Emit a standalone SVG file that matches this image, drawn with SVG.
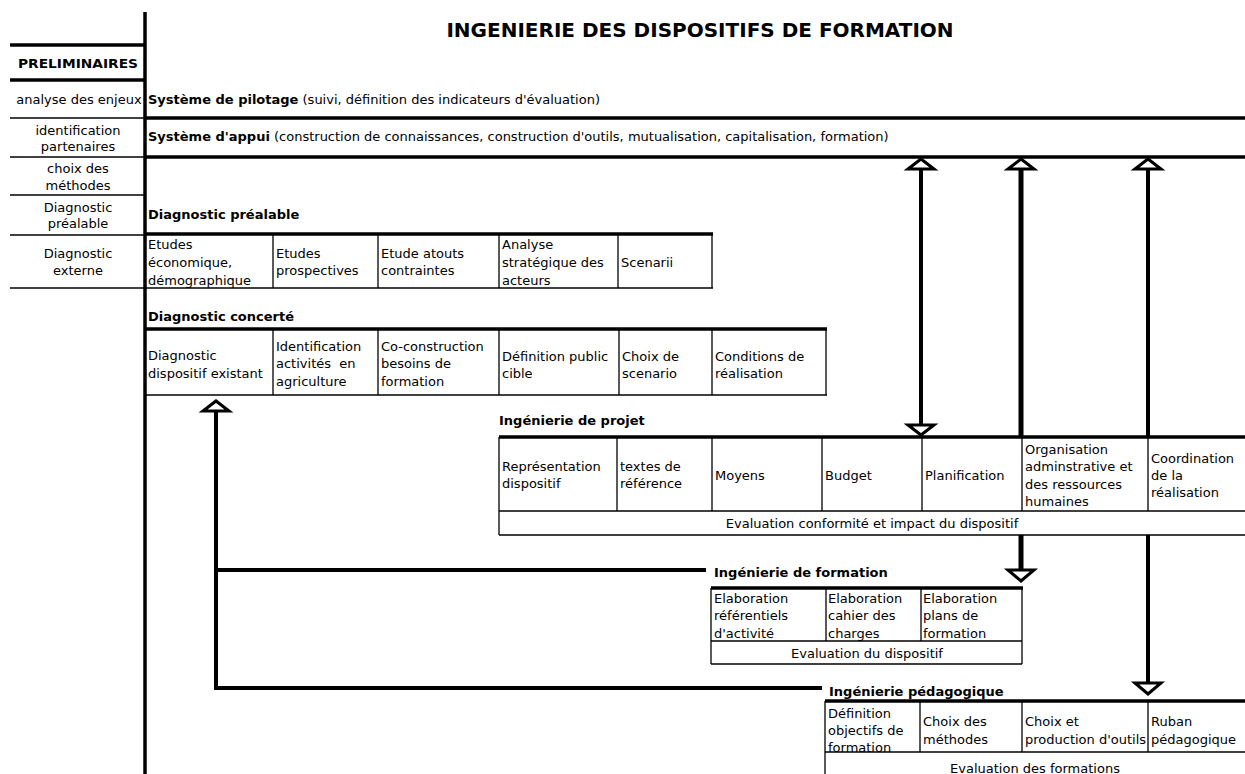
<svg xmlns="http://www.w3.org/2000/svg" width="1245" height="774" viewBox="0 0 1245 774">
<style>
text{font-family:"DejaVu Sans","Liberation Sans",sans-serif;font-size:13px;fill:#000}
.b{font-weight:bold}
.m{text-anchor:middle}
.title{font-size:20px;font-weight:bold;text-anchor:middle}
.k{stroke:#000;stroke-width:3.5;fill:none}
.n{stroke:#000;stroke-width:1.3;fill:none}
.sh{stroke:#000;stroke-width:4;fill:none}
.hd{fill:#fff;stroke:#000;stroke-width:3;stroke-linejoin:miter}
</style>
<rect width="1245" height="774" fill="#fff"/>

<g id="title"><text class="title" x="700" y="37">INGENIERIE DES DISPOSITIFS DE FORMATION</text></g>

<g id="preliminaires">
<line class="k" x1="145" y1="12" x2="145" y2="774"/>
<line class="k" x1="10" y1="45" x2="145" y2="45"/>
<line class="k" x1="10" y1="80" x2="145" y2="80"/>
<line class="n" x1="10" y1="118" x2="145" y2="118"/>
<line class="n" x1="10" y1="157" x2="145" y2="157"/>
<line class="n" x1="10" y1="195" x2="145" y2="195"/>
<line class="n" x1="10" y1="235" x2="145" y2="235"/>
<line class="n" x1="10" y1="288" x2="145" y2="288"/>
<text class="b m" x="78" y="68" textLength="120" lengthAdjust="spacingAndGlyphs">PRELIMINAIRES</text>
<text class="m" x="79" y="104">analyse des enjeux</text>
<text class="m" x="78" y="135">identification</text>
<text class="m" x="78" y="151">partenaires</text>
<text class="m" x="78" y="173">choix des</text>
<text class="m" x="78" y="190">méthodes</text>
<text class="m" x="78" y="212">Diagnostic</text>
<text class="m" x="78" y="228">préalable</text>
<text class="m" x="78" y="258">Diagnostic</text>
<text class="m" x="78" y="275">externe</text>
</g>

<g id="pilotage">
<text x="148" y="104"><tspan class="b">Système de pilotage</tspan> (suivi, définition des indicateurs d'évaluation)</text>
<line class="k" x1="145" y1="118" x2="1245" y2="118"/>
</g>

<g id="appui">
<text x="148" y="141"><tspan class="b">Système d'appui</tspan> (construction de connaissances, construction d'outils, mutualisation, capitalisation, formation)</text>
<line class="k" x1="145" y1="157" x2="1245" y2="157"/>
</g>

<g id="diagnostic-prealable">
<text class="b" x="148" y="219">Diagnostic préalable</text>
<line class="k" x1="145" y1="234" x2="713" y2="234"/>
<line class="n" x1="145" y1="288" x2="713" y2="288"/>
<line class="n" x1="712" y1="234" x2="712" y2="288"/>
<line class="n" x1="273" y1="234" x2="273" y2="288"/>
<line class="n" x1="378" y1="234" x2="378" y2="288"/>
<line class="n" x1="499" y1="234" x2="499" y2="288"/>
<line class="n" x1="618" y1="234" x2="618" y2="288"/>
<text x="148" y="249">Etudes</text>
<text x="148" y="267">économique,</text>
<text x="148" y="285">démographique</text>
<text x="276" y="258">Etudes</text>
<text x="276" y="275">prospectives</text>
<text x="381" y="258">Etude atouts</text>
<text x="381" y="275">contraintes</text>
<text x="502" y="249">Analyse</text>
<text x="502" y="267">stratégique des</text>
<text x="502" y="285">acteurs</text>
<text x="621" y="267">Scenarii</text>
</g>

<g id="diagnostic-concerte">
<text class="b" x="148" y="321">Diagnostic concerté</text>
<line class="k" x1="145" y1="329" x2="827" y2="329"/>
<line class="n" x1="145" y1="395" x2="827" y2="395"/>
<line class="n" x1="826" y1="329" x2="826" y2="395"/>
<line class="n" x1="273" y1="329" x2="273" y2="395"/>
<line class="n" x1="378" y1="329" x2="378" y2="395"/>
<line class="n" x1="499" y1="329" x2="499" y2="395"/>
<line class="n" x1="619" y1="329" x2="619" y2="395"/>
<line class="n" x1="712" y1="329" x2="712" y2="395"/>
<text x="148" y="360">Diagnostic</text>
<text x="148" y="378">dispositif existant</text>
<text x="276" y="351">Identification</text>
<text x="276" y="368" xml:space="preserve">activités  en</text>
<text x="276" y="386">agriculture</text>
<text x="381" y="351">Co-construction</text>
<text x="381" y="368">besoins de</text>
<text x="381" y="386">formation</text>
<text x="502" y="361">Définition public</text>
<text x="502" y="378">cible</text>
<text x="622" y="361">Choix de</text>
<text x="622" y="378">scenario</text>
<text x="715" y="361">Conditions de</text>
<text x="715" y="378">réalisation</text>
</g>

<g id="ingenierie-projet">
<text class="b" x="499" y="425">Ingénierie de projet</text>
<line class="k" x1="499" y1="437" x2="1245" y2="437"/>
<line class="n" x1="499" y1="437" x2="499" y2="535"/>
<line class="n" x1="499" y1="511" x2="1245" y2="511"/>
<line class="n" x1="499" y1="535" x2="1245" y2="535"/>
<line class="n" x1="617" y1="437" x2="617" y2="511"/>
<line class="n" x1="712" y1="437" x2="712" y2="511"/>
<line class="n" x1="822" y1="437" x2="822" y2="511"/>
<line class="n" x1="922" y1="437" x2="922" y2="511"/>
<line class="n" x1="1022" y1="437" x2="1022" y2="511"/>
<line class="n" x1="1148" y1="437" x2="1148" y2="511"/>
<text x="502" y="471">Représentation</text>
<text x="502" y="488">dispositif</text>
<text x="620" y="471">textes de</text>
<text x="620" y="488">référence</text>
<text x="715" y="480">Moyens</text>
<text x="825" y="480">Budget</text>
<text x="925" y="480">Planification</text>
<text x="1025" y="454">Organisation</text>
<text x="1025" y="471">adminstrative et</text>
<text x="1025" y="489">des ressources</text>
<text x="1025" y="506">humaines</text>
<text x="1151" y="463">Coordination</text>
<text x="1151" y="480">de la</text>
<text x="1151" y="497">réalisation</text>
<text class="m" x="872" y="528">Evaluation conformité et impact du dispositif</text>
</g>

<g id="ingenierie-formation">
<text class="b" x="714" y="577">Ingénierie de formation</text>
<line class="k" x1="711" y1="588" x2="1023" y2="588"/>
<line class="n" x1="711" y1="588" x2="711" y2="664"/>
<line class="n" x1="1022" y1="588" x2="1022" y2="664"/>
<line class="n" x1="826" y1="588" x2="826" y2="641"/>
<line class="n" x1="921" y1="588" x2="921" y2="641"/>
<line class="n" x1="711" y1="641" x2="1022" y2="641"/>
<line class="n" x1="711" y1="664" x2="1022" y2="664"/>
<text x="714" y="603">Elaboration</text>
<text x="714" y="620">référentiels</text>
<text x="714" y="638">d'activité</text>
<text x="828" y="603">Elaboration</text>
<text x="828" y="620">cahier des</text>
<text x="828" y="638">charges</text>
<text x="923" y="603">Elaboration</text>
<text x="923" y="620">plans de</text>
<text x="923" y="638">formation</text>
<text class="m" x="867" y="658">Evaluation du dispositif</text>
</g>

<g id="ingenierie-pedagogique">
<text class="b" x="829" y="696">Ingénierie pédagogique</text>
<line class="k" x1="825" y1="701" x2="1245" y2="701"/>
<line class="n" x1="825" y1="701" x2="825" y2="774"/>
<line class="n" x1="920" y1="701" x2="920" y2="752"/>
<line class="n" x1="1022" y1="701" x2="1022" y2="752"/>
<line class="n" x1="1148" y1="701" x2="1148" y2="752"/>
<line class="n" x1="825" y1="752" x2="1245" y2="752"/>
<text x="828" y="718">Définition</text>
<text x="828" y="735">objectifs de</text>
<text x="828" y="752">formation</text>
<text x="923" y="726">Choix des</text>
<text x="923" y="744">méthodes</text>
<text x="1025" y="726">Choix et</text>
<text x="1025" y="744">production d'outils</text>
<text x="1151" y="726">Ruban</text>
<text x="1151" y="744">pédagogique</text>
<text class="m" x="1035" y="773">Evaluation des formations</text>
</g>

<g id="connectors">
<line class="sh" x1="921" y1="168" x2="921" y2="426"/>
<polygon class="hd" points="908,169 921,159 934,169"/>
<polygon class="hd" points="908,425 921,435 934,425"/>
<line class="sh" x1="1021" y1="437" x2="1021" y2="168" style="stroke-width:5"/>
<polygon class="hd" points="1008,169 1021,159 1034,169"/>
<line class="sh" x1="1148" y1="437" x2="1148" y2="168"/>
<polygon class="hd" points="1135,169 1148,159 1161,169"/>
<line class="sh" x1="1021" y1="535" x2="1021" y2="571" style="stroke-width:5"/>
<polygon class="hd" points="1008,570 1021,581 1034,570"/>
<line class="sh" x1="1148" y1="535" x2="1148" y2="684"/>
<polygon class="hd" points="1135,683 1148,694 1161,683"/>
<polyline class="sh" points="216,410 216,688 822,688"/>
<line class="sh" x1="216" y1="570" x2="706" y2="570"/>
<polygon class="hd" points="203,411 216,401 229,411"/>
</g>
</svg>
